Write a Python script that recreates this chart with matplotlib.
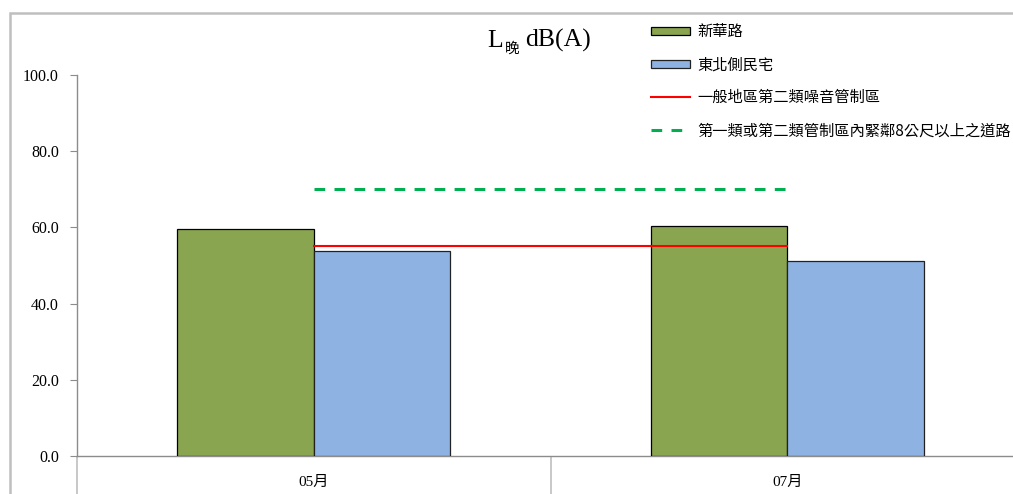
import matplotlib.pyplot as plt
import numpy as np
from matplotlib.patches import Patch, Rectangle
from matplotlib.lines import Line2D

plt.rcParams['font.family'] = ['Liberation Serif', 'Noto Sans CJK TC']

months = ["05月", "07月"]
xinhua = [59.6, 60.4]
dongbei = [53.8, 51.2]
limit_general = [55, 55]
limit_road = [70, 70]

labels = ["新華路", "東北側民宅", "一般地區第二類噪音管制區", "第一類或第二類管制區內緊鄰8公尺以上之道路"]

fig = plt.figure(figsize=(10.13, 4.94), dpi=100)
W, H = 1013, 494
# axes: left 77px, y=0 at 456px, 100 at 75px, x from -0.5 to 1.5 spanning 947px
ax = fig.add_axes([77 / W, (H - 456) / H, 947 / W, (456 - 75) / H])
ax.set_xlim(-0.5, 1.5)
ax.set_ylim(0, 100)

x = np.arange(len(months))
bw = 0.288
ax.bar(x - bw / 2, xinhua, bw, color="#8AA550", edgecolor="black", linewidth=0.9, zorder=3)
ax.bar(x + bw / 2, dongbei, bw, color="#8EB3E2", edgecolor="#222222", linewidth=0.9, zorder=3)
ax.plot(x, limit_general, color="#FF0000", linewidth=1.5, zorder=4)
ax.plot(x, limit_road, color="#00B050", linewidth=2.2, linestyle=(0, (3.5, 3.05)), zorder=4)

for s in ["top", "right"]:
    ax.spines[s].set_visible(False)
for s in ["left", "bottom"]:
    ax.spines[s].set_color("#8C8C8C")
    ax.spines[s].set_linewidth(1.0)

ax.set_yticks(np.arange(0, 101, 20))
ax.set_yticklabels([f"{v:.1f}" for v in np.arange(0, 101, 20)], fontsize=11.5)
ax.tick_params(axis="y", direction="out", length=5, color="#8C8C8C", pad=8)

ax.set_xticks([-0.5, 0.5, 1.5])
ax.set_xticklabels([])
ax.tick_params(axis="x", which="major", direction="out", length=28, color="#BFBFBF", width=1.2)
ax.set_xticks(x, minor=True)
ax.set_xticklabels(months, minor=True, fontsize=11)
ax.tick_params(axis="x", which="minor", length=0, pad=14)

# title "L晚 dB(A)"
fig.text(487 / W, 1 - 47 / H, "L", fontsize=18.5, ha="left", va="baseline")
fig.text(505 / W, 1 - 53 / H, "晚", fontsize=10.5, ha="left", va="baseline", family=["Noto Sans CJK TC"])
fig.text(525 / W, 1 - 47 / H, "dB(A)", fontsize=18.5, ha="left", va="baseline")

handles = [
    Patch(facecolor="#8AA550", edgecolor="black", linewidth=0.9),
    Patch(facecolor="#8EB3E2", edgecolor="#222222", linewidth=0.9),
    Line2D([], [], color="#FF0000", linewidth=1.5),
    Line2D([], [], color="#00B050", linewidth=2.2, linestyle=(0, (3.5, 3.05))),
]
leg = fig.legend(handles, labels, loc="upper left", bbox_to_anchor=(645 / W, 1 - 17 / H),
                 frameon=False, handlelength=2.55, handleheight=0.45,
                 handletextpad=0.45, labelspacing=1.05, borderaxespad=0,
                 prop={"family": ["Noto Sans CJK TC"], "size": 11})

# chart area border
fig.add_artist(Rectangle((9.5 / W, -0.1), 1.2, 1 - 13 / H + 0.1, transform=fig.transFigure,
                         fill=False, edgecolor="#BFBFBF", linewidth=1.8))

fig.savefig("out.png", dpi=100)
